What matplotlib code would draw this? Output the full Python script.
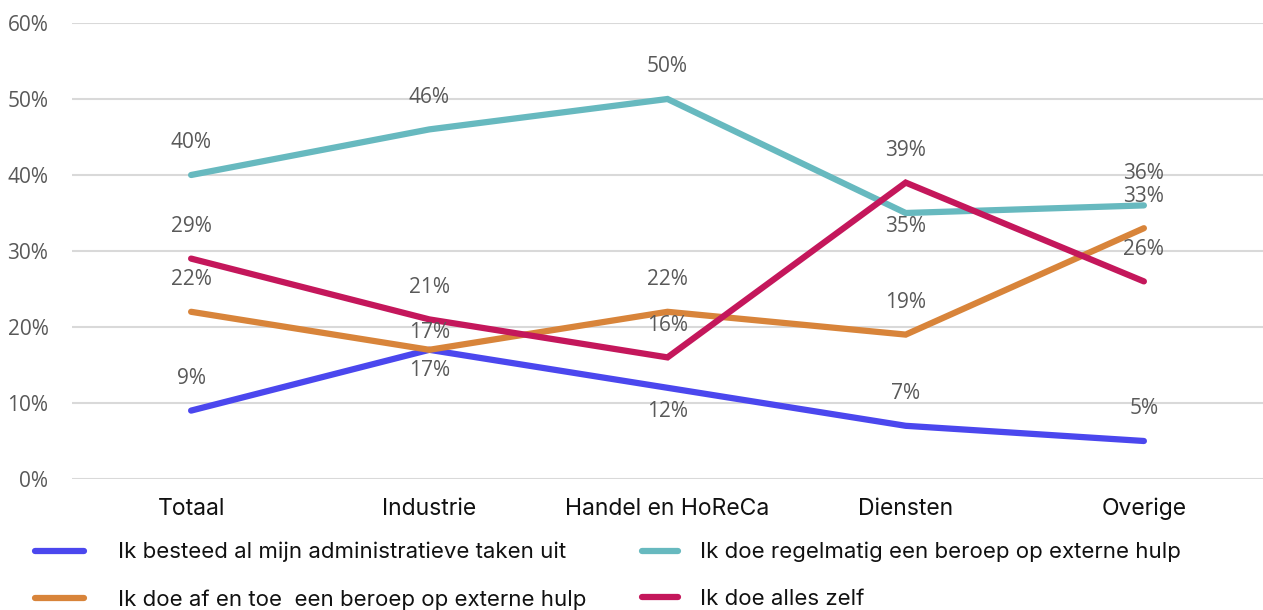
import matplotlib
matplotlib.use("Agg")
import matplotlib.pyplot as plt
from matplotlib.ticker import FuncFormatter

# categories and series (percent)
categories = ["Totaal", "Industrie", "Handel en HoReCa", "Diensten", "Overige"]
series_names = [
    "Ik besteed al mijn administratieve taken uit",
    "Ik doe af en toe  een beroep op externe hulp",
    "Ik doe regelmatig een beroep op externe hulp",
    "Ik doe alles zelf",
]
uitbesteed = [9, 17, 12, 7, 5]
af_en_toe = [22, 17, 22, 19, 33]
regelmatig = [40, 46, 50, 35, 36]
alles_zelf = [29, 21, 16, 39, 26]

colors = ["#4b47ee", "#d8843a", "#67b9bf", "#c4175b"]
# vertical label offsets in pixels (positive = above the point)
label_dy = [
    [32, -21, -24, 32, 32],
    [32, 17, 32, 32, 32],
    [32, 32, 32, -14, 32],
    [32, 32, 32, 32, 32],
]

num_font = "Open Sans"
txt_font = "Inter"
grey = "#595959"
W, H = 1263, 610

fig = plt.figure(figsize=(W / 100, H / 100), dpi=100)
ax = fig.add_axes([72 / W, 1 - 479 / H, 1 - 72 / W, (479 - 23) / H])

x = list(range(len(categories)))
all_series = [uitbesteed, af_en_toe, regelmatig, alles_zelf]
lines = []
for vals, name, col, dys in zip(all_series, series_names, colors, label_dy):
    ln, = ax.plot(x, vals, color=col, lw=4.5, solid_capstyle="round",
                  solid_joinstyle="miter", label=name, zorder=3)
    lines.append(ln)
    for xi, v, dy in zip(x, vals, dys):
        ax.annotate(f"{v}%", (xi, v), xytext=(0, dy * 0.72), textcoords="offset points",
                    ha="center", va="center", fontsize=15, color=grey,
                    family=num_font, zorder=4)

ax.set_xlim(-0.5, 4.5)
ax.set_ylim(0, 60)
ax.set_yticks(range(0, 61, 10))
ax.yaxis.set_major_formatter(FuncFormatter(lambda v, p: f"{int(v)}%"))
ax.set_xticks(x)
ax.set_xticklabels(categories, family=txt_font, fontsize=16.5, color="#111111")
for lab in ax.get_yticklabels():
    lab.set_family(num_font)
    lab.set_fontsize(15)
    lab.set_color(grey)
ax.tick_params(axis="both", length=0)
ax.tick_params(axis="x", pad=13.5)
ax.tick_params(axis="y", pad=17)
ax.grid(axis="y", color="#d9d9d9", lw=1.5, zorder=0)
for s in ax.spines.values():
    s.set_visible(False)

# two legend columns, each with its own handle length
leg_kw = dict(loc="upper left", frameon=False, borderpad=0, borderaxespad=0,
              labelspacing=1.2, prop={"family": txt_font, "size": 16})
leg1 = fig.legend(lines[:2], series_names[:2], bbox_to_anchor=(35 / W, 1 - 542 / H),
                  handlelength=2.2, handletextpad=1.55, **leg_kw)
leg2 = fig.legend(lines[2:], series_names[2:], bbox_to_anchor=(642 / W, 1 - 542 / H),
                  handlelength=1.6, handletextpad=1.03, **leg_kw)
for leg in (leg1, leg2):
    for t in leg.get_texts():
        t.set_color("#111111")

fig.savefig("out.png", dpi=100)
